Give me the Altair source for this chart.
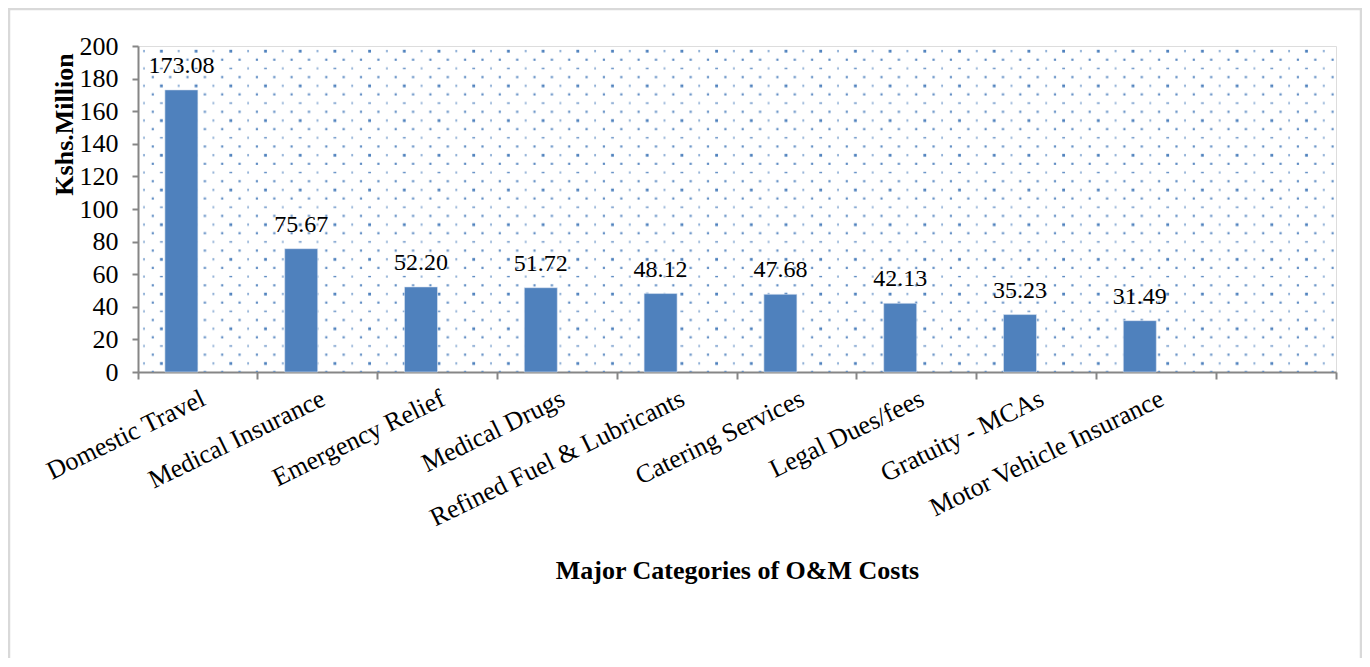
import base64
import altair as alt
import pandas as pd

categories = ["Domestic Travel", "Medical Insurance", "Emergency Relief", "Medical Drugs",
              "Refined Fuel & Lubricants", "Catering Services", "Legal Dues/fees",
              "Gratuity - MCAs", "Motor Vehicle Insurance"]
values = [173.08, 75.67, 52.20, 51.72, 48.12, 47.68, 42.13, 35.23, 31.49]
x_domain = categories + [" "]
y_ticks = [0, 20, 40, 60, 80, 100, 120, 140, 160, 180, 200]
series = ["a"] * len(categories)

W, H = 1198, 326
FONT = "Liberation Serif"
BLUE = "#4F81BD"

df = pd.DataFrame({"category": categories, "value": values, "series": series})

# dotted background texture (decoration only)
tile = 34.7
svg = (
    f"<svg xmlns='http://www.w3.org/2000/svg' width='{W}' height='{H}'>"
    f"<defs><pattern id='p' width='{tile}' height='{tile}' patternUnits='userSpaceOnUse'>"
    f"<rect x='5.3' y='3.9' width='1.4' height='2.4' fill='{BLUE}' opacity='0.85'/>"
    f"<rect x='22' y='3.8' width='2.8' height='2.8' fill='{BLUE}'/>"
    f"<rect x='13.7' y='12.6' width='2.2' height='2.2' fill='{BLUE}' opacity='0.9'/>"
    f"<rect x='31.1' y='12.6' width='2.2' height='2.2' fill='{BLUE}' opacity='0.9'/>"
    f"<rect x='5.3' y='21.3' width='1.4' height='2.2' fill='{BLUE}' opacity='0.8'/>"
    f"<rect x='22' y='21.7' width='2.8' height='1.4' fill='{BLUE}' opacity='0.9'/>"
    f"<rect x='13.7' y='30' width='2.2' height='2.2' fill='{BLUE}' opacity='0.9'/>"
    f"<rect x='31.1' y='30' width='2.2' height='2.2' fill='{BLUE}' opacity='0.9'/>"
    f"</pattern></defs><rect width='{W}' height='{H}' fill='url(#p)'/></svg>"
)
uri = "data:image/svg+xml;base64," + base64.b64encode(svg.encode()).decode()

one = pd.DataFrame({"k": [0]})

border = alt.Chart(one).mark_rect(fill=None, stroke="#D9D9D9", strokeWidth=2.5).encode(
    x=alt.value(-129), x2=alt.value(W + 25), y=alt.value(-37), y2=alt.value(H + 400)
)

texture = alt.Chart(one).mark_image(
    url=uri, width=W, height=H, aspect=False, align="left", baseline="top"
).encode(x=alt.value(0), y=alt.value(0))

xenc = alt.X(
    "category:N",
    scale=alt.Scale(domain=x_domain, paddingInner=0, paddingOuter=0),
    sort=x_domain,
    axis=alt.Axis(
        title="Major Categories of O&M Costs",
        labelAngle=-26,
        labelAlign="right",
        labelBaseline="top",
        labelFont=FONT,
        labelFontSize=26,
        labelColor="#000000",
        labelPadding=6,
        labelLimit=400,
        labelOverlap=False,
        bandPosition=1,
        tickExtra=True,
        tickSize=7,
        tickColor="#868686",
        tickWidth=2,
        domainColor="#868686",
        domainWidth=2,
        titleFont=FONT,
        titleFontSize=26,
        titleFontWeight="bold",
        titleColor="#000000",
        titleY=206,
        titleBaseline="alphabetic",
    ),
)
xoff = alt.XOffset("series:N", scale=alt.Scale(domain=["a", "b"], paddingInner=0, paddingOuter=0.815))
yenc = alt.Y(
    "value:Q",
    scale=alt.Scale(domain=[0, 200], nice=False),
    axis=alt.Axis(
        title="Kshs.Million",
        values=y_ticks,
        tickCount=11,
        labelOverlap=False,
        grid=False,
        labelFont=FONT,
        labelFontSize=26,
        labelColor="#000000",
        labelPadding=14,
        tickSize=6,
        tickColor="#868686",
        tickWidth=2,
        domainColor="#868686",
        domainWidth=2,
        titleFont=FONT,
        titleFontSize=26,
        titleFontWeight="bold",
        titleColor="#000000",
        titleAngle=-90,
        titleX=-66,
        titleY=78,
        titleAlign="center",
        titleBaseline="alphabetic",
    ),
)

bars = alt.Chart(df).mark_bar(color=BLUE, stroke="#dde6f2", strokeWidth=0.6).encode(
    x=xenc, xOffset=xoff, y=yenc
)
labels = alt.Chart(df).mark_text(
    font=FONT, fontSize=24, color="#000000", baseline="alphabetic", dy=-17
).encode(x=xenc, xOffset=xoff, y=yenc,
         text=alt.Text("value:Q", format=".2f"))

chart = alt.layer(border, texture, bars, labels).properties(
    width=W, height=H,
    autosize=alt.AutoSizeParams(type="none"),
    padding={"left": 130, "top": 38, "right": 26, "bottom": 286},
).configure_view(stroke=None).configure(background="#ffffff")

chart.save("out.html", embed_options={"renderer": "svg", "actions": False})
